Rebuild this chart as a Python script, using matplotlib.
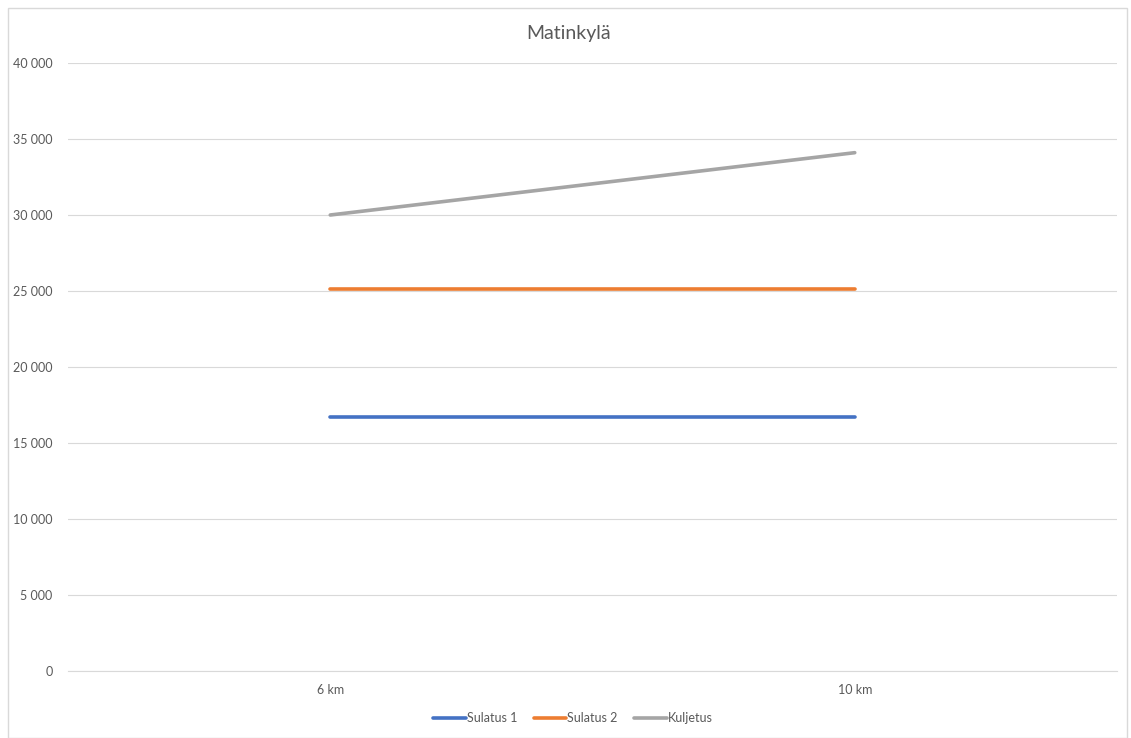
import matplotlib
matplotlib.use("Agg")
import matplotlib.pyplot as plt
from matplotlib.patches import Rectangle
from matplotlib.ticker import FuncFormatter

plt.rcParams['font.family'] = ['Lato', 'DejaVu Sans']

categories = ["6 km", "10 km"]
sulatus_1 = [16700, 16700]
sulatus_2 = [25100, 25100]
kuljetus = [30000, 34100]
y_ticks = list(range(0, 40001, 5000))

W, H = 1131, 738
fig = plt.figure(figsize=(W / 100, H / 100), dpi=100)
fig.patch.set_facecolor("white")

# chart frame
fig.patches.append(Rectangle((8 / W, 0), 1119 / W, 1 - 8 / H,
                             transform=fig.transFigure, fill=False,
                             edgecolor="#D9D9D9", linewidth=1.0))

ax = fig.add_axes([68 / W, 1 - 671 / H, (1117 - 68) / W, (671 - 63) / H])
x = list(range(len(categories)))
series = [("Sulatus 1", sulatus_1, "#4472C4"),
          ("Sulatus 2", sulatus_2, "#ED7D31"),
          ("Kuljetus", kuljetus, "#A5A5A5")]
for name, vals, col in series:
    ax.plot(x, vals, color=col, linewidth=2.6, solid_capstyle="round", label=name)

ax.set_xlim(-0.5, len(categories) - 0.5)
ax.set_ylim(0, 40000)
ax.set_yticks(y_ticks)
ax.yaxis.set_major_formatter(FuncFormatter(lambda v, p: f"{int(v):,}".replace(",", " ")))
ax.set_xticks(x)
ax.set_xticklabels(categories)
ax.grid(axis="y", color="#D9D9D9", linewidth=0.8)
ax.set_axisbelow(True)
for s in ["top", "right", "left"]:
    ax.spines[s].set_visible(False)
ax.spines["bottom"].set_color("#D9D9D9")
ax.spines["bottom"].set_linewidth(0.8)
ax.tick_params(axis="both", length=0, labelsize=9, labelcolor="#595959")
ax.tick_params(axis="y", pad=11)
ax.tick_params(axis="x", pad=9)

fig.text(0.5 + 3 / W, 1 - 33 / H, "Matinkylä", ha="center", va="center",
         fontsize=14, color="#595959")

fig.legend(loc="center", bbox_to_anchor=(573 / W, 1 - 718 / H), ncol=3,
           frameon=False, fontsize=9, labelcolor="#595959",
           handlelength=2.6, handletextpad=0.1, columnspacing=1.3)

fig.savefig("out.png", dpi=100)
